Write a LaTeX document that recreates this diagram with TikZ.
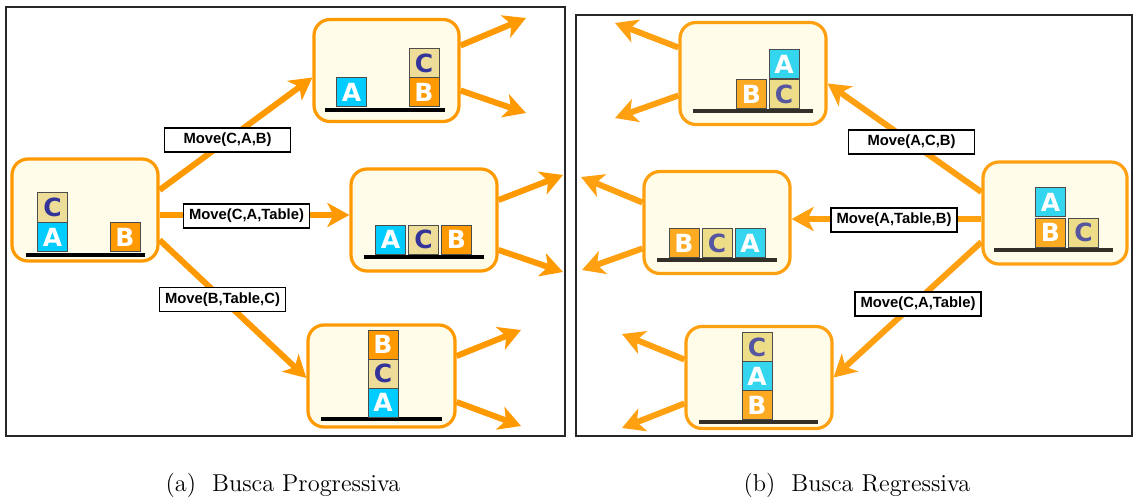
\documentclass[tikz,border=0pt]{standalone}
\usepackage{fontspec}
\usetikzlibrary{arrows.meta}
\newfontfamily\lblfont{Liberation Sans}
\newfontfamily\blkfont{DejaVu Sans}
\definecolor{orL}{HTML}{FF9900}
\definecolor{orR}{HTML}{FFA010}
\definecolor{cream}{HTML}{FFFDEA}
\definecolor{aL}{HTML}{00CCFF}
\definecolor{bL}{HTML}{FF9900}
\definecolor{cL}{HTML}{EEDD99}
\definecolor{ctL}{HTML}{333399}
\definecolor{aR}{HTML}{33D6EE}
\definecolor{bR}{HTML}{FBAA22}
\definecolor{cR}{HTML}{EEDD88}
\definecolor{ctR}{HTML}{5555A0}
\tikzset{
  statebox/.style={draw=orL, line width=1.6pt, fill=cream, rounded corners=8pt,
    minimum width=#1, minimum height=51pt, inner sep=0pt},
  blk/.style={draw=black!70, line width=0.5pt, minimum width=15pt, minimum height=14.5pt,
    inner sep=0pt, font=\blkfont\bfseries\fontsize{12.5}{13}\selectfont},
  bA/.style={blk, fill=aL, text=white},
  bB/.style={blk, fill=bL, text=white},
  bC/.style={blk, fill=cL, text=ctL},
  rA/.style={blk, fill=aR, text=white},
  rB/.style={blk, fill=bR, text=white},
  rC/.style={blk, fill=cR, text=ctR},
  ground/.style={line width=2pt, black},
  groundR/.style={line width=2pt, black!85!olive},
  arr/.style={line width=3pt, draw=orL, -{Stealth[length=11pt,width=12pt,inset=3pt]}},
  arrR/.style={line width=3pt, draw=orR, -{Stealth[length=11pt,width=12pt,inset=3pt]}},
  lbl/.style={draw=black, line width=0.6pt, fill=white, inner sep=1pt,
    minimum width=63pt, minimum height=12pt,
    font=\lblfont\bfseries\fontsize{7.4}{9}\selectfont},
  frame/.style={draw=black!85, line width=0.9pt},
  captxt/.style={font=\fontsize{12.2}{14}\selectfont}
}
\begin{document}
\begin{tikzpicture}[x=0.5pt,y=-0.5pt]
\useasboundingbox (0,0) rectangle (1133,497);
\fill[white] (0,0) rectangle (1133,497);
% frames
\draw[frame] (6,7) rectangle (565,436);
\draw[frame] (576,15) rectangle (1132,436);

% ---------- left: progressive ----------
\node[statebox=73pt] (L0) at (85,210) {};
\node[statebox=72.5pt] (L1) at (386.5,70.5) {};
\node[statebox=73pt] (L2) at (424,220) {};
\node[statebox=73.5pt] (L3) at (381.5,376) {};

\coordinate (g0a) at (26,255); \coordinate (g0b) at (145,255);
\draw[ground] (g0a) -- (g0b);
\node[bC] (l0c) at (52.5,207.5) {C};
\node[bA] (l0a) at (52.5,237) {A};
\node[bB] (l0b) at (125,237) {B};

\coordinate (g1a) at (325,110); \coordinate (g1b) at (445,110);
\draw[ground] (g1a) -- (g1b);
\node[bA] (l1a) at (351.5,92.5) {A};
\node[bC] (l1c) at (424,63) {C};
\node[bB] (l1b) at (424,92.5) {B};

\coordinate (g2a) at (364,257); \coordinate (g2b) at (484,257);
\draw[ground] (g2a) -- (g2b);
\node[bA] (l2a) at (390.5,239.5) {A};
\node[bC] (l2c) at (423.5,239.5) {C};
\node[bB] (l2b) at (456.5,239.5) {B};

\coordinate (g3a) at (321,419); \coordinate (g3b) at (442,419);
\draw[ground] (g3a) -- (g3b);
\node[bB] (l3b) at (383,344.5) {B};
\node[bC] (l3c) at (383,373.5) {C};
\node[bA] (l3a) at (383,402.5) {A};

\draw[arr] ([yshift=10pt]L0.east) -- ([yshift=-3.5pt]L1.west);
\draw[arr] ([yshift=-2.5pt]L0.east) -- ([yshift=-2.5pt]L0.east -| L2.west);
\draw[arr] ([yshift=-15pt]L0.east) -- ([yshift=-1pt]L3.west);

\coordinate (o1a) at (526,18);  \coordinate (o1b) at (526,113);
\coordinate (o2a) at (563,175); \coordinate (o2b) at (563,272);
\coordinate (o3a) at (521,330); \coordinate (o3b) at (521,426);
\draw[arr] ([yshift=12.5pt]L1.east) -- (o1a);
\draw[arr] ([yshift=-10pt]L1.east) -- (o1b);
\draw[arr] ([yshift=10pt]L2.east) -- (o2a);
\draw[arr] ([yshift=-15pt]L2.east) -- (o2b);
\draw[arr] ([yshift=10pt]L3.east) -- (o3a);
\draw[arr] ([yshift=-13pt]L3.east) -- (o3b);

\node[lbl] (m1) at (227.5,140) {Move(C,A,B)};
\node[lbl] (m2) at (246.5,216) {Move(C,A,Table)};
\node[lbl] (m3) at (222.5,299.5) {Move(B,Table,C)};

% ---------- right: regressive ----------
\node[statebox=72pt, draw=orR] (R0) at (1055,213) {};
\node[statebox=73pt, draw=orR] (R1) at (753,73.5) {};
\node[statebox=73pt, draw=orR] (R2) at (717,222.5) {};
\node[statebox=73pt, draw=orR] (R3) at (759,377.5) {};

\coordinate (h0a) at (994,250); \coordinate (h0b) at (1113,250);
\draw[groundR] (h0a) -- (h0b);
\node[rA] (r0a) at (1050.5,202) {A};
\node[rB] (r0b) at (1050.5,232.5) {B};
\node[rC] (r0c) at (1083.5,232.5) {C};

\coordinate (h1a) at (693,111); \coordinate (h1b) at (813,111);
\draw[groundR] (h1a) -- (h1b);
\node[rB] (r1b) at (751.5,94.5) {B};
\node[rC] (r1c) at (784,94.5) {C};
\node[rA] (r1a) at (784,64) {A};

\coordinate (h2a) at (657,260); \coordinate (h2b) at (777,260);
\draw[groundR] (h2a) -- (h2b);
\node[rB] (r2b) at (684,243) {B};
\node[rC] (r2c) at (717,243) {C};
\node[rA] (r2a) at (750,243) {A};

\coordinate (h3a) at (699,422); \coordinate (h3b) at (818,422);
\draw[groundR] (h3a) -- (h3b);
\node[rC] (r3c) at (757,347) {C};
\node[rA] (r3a) at (757,376) {A};
\node[rB] (r3b) at (757,405) {B};

\draw[arrR] ([yshift=10.5pt]R0.west) -- ([yshift=-5pt]R1.east);
\draw[arrR] ([yshift=-3pt]R0.west) -- ([yshift=-3pt]R0.west -| R2.east);
\draw[arrR] ([yshift=-14.5pt]R0.west) -- ([yshift=0pt]R3.east);

\coordinate (p1a) at (615,23);  \coordinate (p1b) at (615,118);
\coordinate (p2a) at (581,177); \coordinate (p2b) at (582,270);
\coordinate (p3a) at (622,334); \coordinate (p3b) at (622,428);
\draw[arrR] ([yshift=13pt]R1.west) -- (p1a);
\draw[arrR] ([yshift=-11pt]R1.west) -- (p1b);
\draw[arrR] ([yshift=10pt]R2.west) -- (p2a);
\draw[arrR] ([yshift=-13pt]R2.west) -- (p2b);
\draw[arrR] ([yshift=9pt]R3.west) -- (p3a);
\draw[arrR] ([yshift=-13pt]R3.west) -- (p3b);

\node[lbl] (n1) at (911.5,142) {Move(A,C,B)};
\node[lbl] (n2) at (894,220) {Move(A,Table,B)};
\node[lbl] (n3) at (918,304) {Move(C,A,Table)};

% captions
\node[captxt] (ca) at (283,485) {(a)~~Busca Progressiva};
\node[captxt] (cb) at (857,485) {(b)~~Busca Regressiva};
\end{tikzpicture}
\end{document}
